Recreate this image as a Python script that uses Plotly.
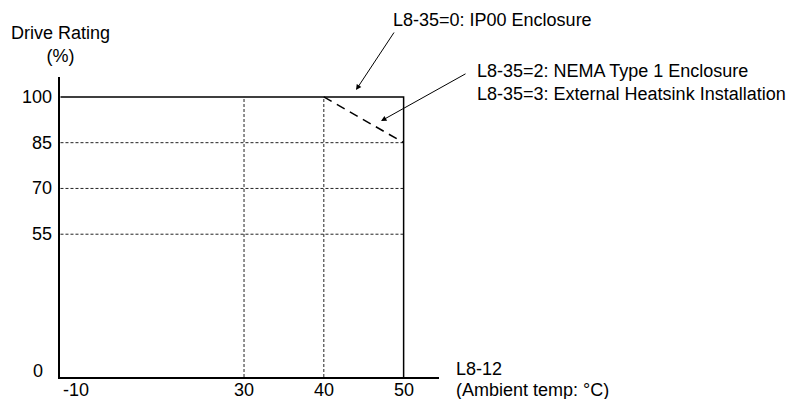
import numpy as np
import plotly.graph_objects as go

# ---- data ----
x_tick_values = [-10, 30, 40, 50]
x_tick_labels = ["-10", "30", "40", "50"]
y_tick_values = [0, 55, 70, 85, 100]
y_tick_labels = ["0", "55", "70", "85", "100"]

grid_temps = [30, 40]
grid_ratings = [55, 70, 85]

ip00_temp = [-10, 50, 50]
ip00_rating = [100, 100, 0]

nema_temp = [40, 50]
nema_rating = [100, 85]

# ---- broken-axis scales (data -> axis position) ----
X_BREAKS, X_POS = [-10, 30, 50], [7.0, 30, 50]
Y_BREAKS, Y_POS = [0, 55, 100], [8.2, 55, 100]


def xs(v):
    return list(np.interp(v, X_BREAKS, X_POS))


def ys(v):
    return list(np.interp(v, Y_BREAKS, Y_POS))


OFF = 8  # page body margin
W, H = 788, 391
ML, MR, MT, MB = 52, 357, 69, 22
PW, PH = W - ML - MR, H - MT - MB


def px(x):
    return (x - OFF - ML) / PW


def py(y):
    return (OFF + H - MB - y) / PH


FONT = "Liberation Sans, Arial, sans-serif"
fig = go.Figure()

grid_style = dict(color="#222222", width=1, dash="3px,2px")
for r in grid_ratings:
    fig.add_trace(go.Scatter(x=xs([-10, 50]), y=ys([r, r]), mode="lines",
                             line=grid_style, hoverinfo="skip"))
for t in grid_temps:
    fig.add_trace(go.Scatter(x=xs([t, t]), y=ys([0, 100]), mode="lines",
                             line=grid_style, hoverinfo="skip"))

fig.add_trace(go.Scatter(x=xs(ip00_temp), y=ys(ip00_rating), mode="lines",
                         line=dict(color="black", width=1.5)))
fig.add_trace(go.Scatter(x=xs(nema_temp), y=ys(nema_rating), mode="lines",
                         line=dict(color="black", width=1.5, dash="9px,6px")))

ann = []
fs = 18
for v, lab in zip(y_tick_values, y_tick_labels):
    sx, sy = (-9, 6) if v == 0 else (0, 0)
    ann.append(dict(xref="paper", yref="y", x=px(54), y=ys([v])[0], text=lab,
                    xanchor="right", yanchor="middle", showarrow=False,
                    xshift=sx, yshift=sy, font=dict(size=fs)))
for v, lab in zip(x_tick_values, x_tick_labels):
    if v == -10:
        ann.append(dict(xref="x", yref="paper", x=xs([v])[0], y=py(390), text=lab,
                        xanchor="left", yanchor="middle", showarrow=False,
                        xshift=1, font=dict(size=fs)))
    else:
        ann.append(dict(xref="x", yref="paper", x=xs([v])[0], y=py(390), text=lab,
                        xanchor="center", yanchor="middle", showarrow=False,
                        font=dict(size=fs)))

ann += [
    dict(xref="paper", yref="paper", x=px(60.5), y=py(44.5),
         text="Drive Rating<br>(%)", xanchor="center", yanchor="middle",
         showarrow=False, align="center", font=dict(size=fs)),
    dict(xref="paper", yref="paper", x=px(391), y=py(20),
         text="L8-35=0: IP00 Enclosure", xanchor="left", yanchor="middle",
         showarrow=False, font=dict(size=fs)),
    dict(xref="paper", yref="paper", x=px(475), y=py(82.5),
         text="L8-35=2: NEMA Type 1 Enclosure<br>L8-35=3: External Heatsink Installation",
         xanchor="left", yanchor="middle", showarrow=False, align="left",
         font=dict(size=fs)),
    dict(xref="paper", yref="paper", x=px(454), y=py(368.5),
         text="L8-12", xanchor="left", yanchor="middle",
         showarrow=False, align="left", font=dict(size=fs)),
    dict(xref="paper", yref="paper", x=px(454), y=py(390),
         text="(Ambient temp: \u00b0C)", xanchor="left", yanchor="middle",
         showarrow=False, align="left", font=dict(size=fs)),
    dict(xref="paper", yref="paper", x=px(356), y=py(90), text="",
         showarrow=True, ax=39, ay=-59, arrowhead=2, arrowsize=1.1,
         arrowwidth=1, arrowcolor="black"),
    dict(xref="paper", yref="paper", x=px(381), y=py(121), text="",
         showarrow=True, ax=86, ay=-48, arrowhead=2, arrowsize=1.1,
         arrowwidth=1, arrowcolor="black"),
]

fig.update_layout(
    width=W, height=H,
    margin=dict(l=ML, r=MR, t=MT, b=MB, pad=0),
    paper_bgcolor="white", plot_bgcolor="white",
    showlegend=False,
    font=dict(family=FONT, color="black", size=fs),
    annotations=ann,
    xaxis=dict(range=[6.94, 6.94 + PW / 7.98], showline=True, linecolor="black",
               linewidth=1.5, showgrid=False, zeroline=False,
               showticklabels=False, ticks="", fixedrange=True),
    yaxis=dict(range=[8.2, 8.2 + PH / 3.051], showline=True, linecolor="black",
               linewidth=1.5, showgrid=False, zeroline=False,
               showticklabels=False, ticks="", fixedrange=True),
)
fig.update_traces(cliponaxis=False)

fig.write_html("out.html")
